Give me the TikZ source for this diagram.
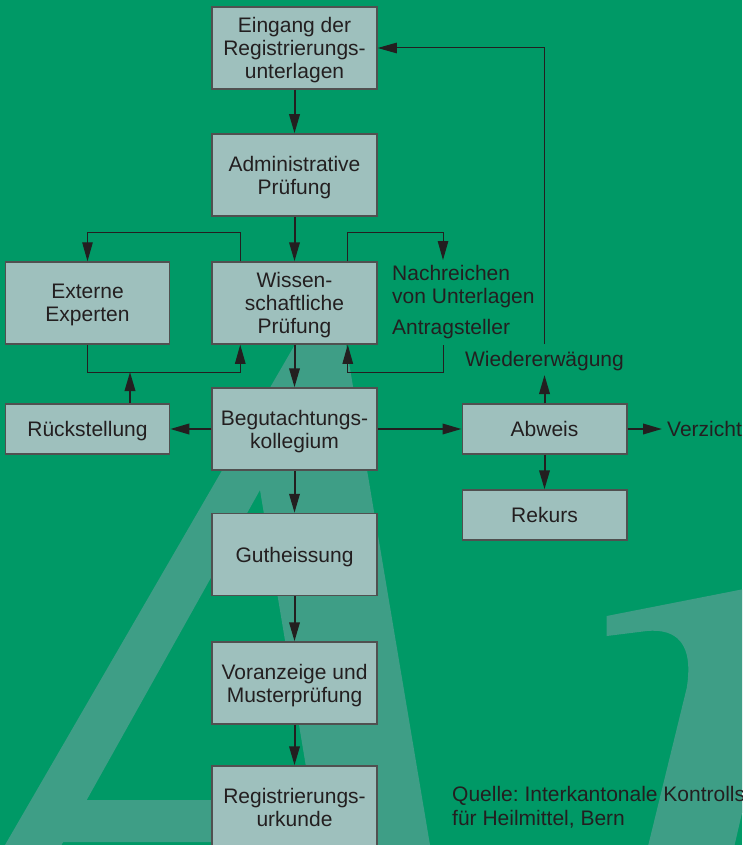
\documentclass[tikz,border=0pt]{standalone}
\usepackage{fontspec}
\setmainfont{Liberation Sans}
\usetikzlibrary{arrows.meta,calc}
\definecolor{bg}{RGB}{0,153,102}
\definecolor{wm}{RGB}{62,158,134}
\definecolor{boxfill}{RGB}{158,192,189}
\definecolor{boxline}{RGB}{80,80,80}
\definecolor{ink}{RGB}{35,31,32}
\frenchspacing
\begin{document}
\begin{tikzpicture}[x=1pt,y=-1pt,
  txt/.style={font=\fontsize{21}{23}\selectfont, text=ink},
  box/.style={txt, draw=boxline, line width=1.5pt, fill=boxfill, minimum width=165pt, minimum height=82pt, align=center, inner sep=0pt, text depth=0pt},
  lowbox/.style={box, minimum height=50pt},
  flow/.style={draw=ink, line width=2pt, -{Triangle[length=19pt,width=10.5pt]}},
  route/.style={draw=ink, line width=1pt, -{Triangle[length=19pt,width=10.5pt]}},
  lbl/.style={txt, inner sep=0pt}
]
\useasboundingbox (0,0) rectangle (742,845);
\clip (0,0) rectangle (742,845);
\fill[bg] (0,0) rectangle (742,845);
% watermark "A"
\fill[wm, even odd rule] (297.6,340) -- (345.2,340) -- (430,845) -- (318.9,845) -- (318.4,842) -- (63.2,842) -- (61.5,845) -- (5,845) -- cycle
  (260,490) -- (86.7,800) -- (311.5,800) -- cycle;
% watermark "1"
\fill[wm] (606.7,616) -- (800,578) -- (768,700) -- (734.6,845) -- (648.3,845) -- (686.7,688)
  .. controls (687.5,683) and (688.2,678) .. (688.3,670)
  .. controls (688.5,648) and (680,628) .. (646.7,631) -- (606.7,636) -- cycle;

% boxes
\node[box] (ein) at (294.5,48) {Eingang der\\Registrierungs-\\unterlagen};
\node[box] (adm) at (294.5,175) {Administrative\\Prüfung};
\node[box] (wis) at (294.5,303) {Wissen-\\schaftliche\\Prüfung};
\node[box, minimum width=164pt] (ext) at (87.5,303) {Externe\\Experten};
\node[lowbox, minimum width=164pt] (ruck) at (87.5,429) {Rückstellung};
\node[box] (beg) at (294.5,429) {Begutachtungs-\\kollegium};
\node[lowbox, minimum width=164.5pt] (abw) at (544.5,429) {Abweis};
\node[lowbox, minimum width=164.5pt] (rek) at (544.5,515) {Rekurs};
\node[box] (gut) at (294.5,554.5) {Gutheissung};
\node[box] (vor) at (294.5,683) {Voranzeige und\\Musterprüfung};
\node[box] (urk) at (294.5,807) {Registrierungs-\\urkunde};

% free labels
\node[lbl, anchor=north west, align=left] (nach) at (392,265.4) {Nachreichen\\von Unterlagen};
\node[lbl, anchor=base west] (antr) at (392,334.3) {Antragsteller};
\node[lbl, anchor=base] (wied) at (544.5,366.7) {Wiedererwägung};
\node[lbl, anchor=west] (verz) at (667,429) {Verzicht};
\node[lbl, anchor=base west] (q1) at (452,801.7) {Quelle: Interkantonale Kontrollstelle};
\node[lbl, anchor=base west] (q2) at (452,825) {für Heilmittel, Bern};

% helper coordinates
\coordinate (nachin) at (443,260);
\coordinate (antrout) at (443,345);
\coordinate (wiedin) at (544.5,375);
\coordinate (wtop) at (544.5,344);
\coordinate (rjoin) at (130,372);

% main flow
\draw[flow] (ein) -- (adm);
\draw[flow] (adm) -- (wis);
\draw[flow] (wis) -- (beg);
\draw[flow] (beg) -- (gut);
\draw[flow] (gut) -- (vor);
\draw[flow] (vor) -- (urk);
\draw[flow] (beg) -- (ruck);
\draw[flow] (beg) -- (abw);
\draw[flow] (abw.east) -- ([xshift=-5pt]verz.west);
\draw[flow] (abw) -- (rek);
\draw[flow] (abw.north) -- (wiedin);
\draw[flow] ([xshift=42.5pt]ruck.north) -- (rjoin);

% routing lines
\draw[route] (wtop) |- (ein.east);
\draw[route] ([xshift=29pt]wis.north west) -- ++(0,-29) -| (ext.north);
\draw[route] ([xshift=-30pt]wis.north east) -- ++(0,-29) -| (nachin);
\draw[route] (ext.south) -- ++(0,28) -| ([xshift=29pt]wis.south west);
\draw[route] (antrout) -- ++(0,27) -| ([xshift=-30pt]wis.south east);
\end{tikzpicture}
\end{document}
